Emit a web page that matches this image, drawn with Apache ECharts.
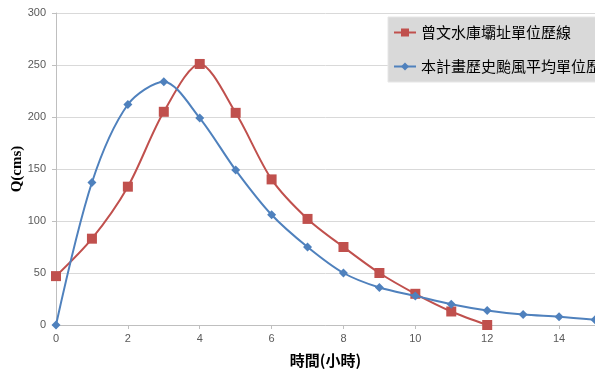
<!DOCTYPE html>
<html>
<head>
<meta charset="utf-8">
<script src="https://cdn.jsdelivr.net/npm/echarts@6/dist/echarts.min.js"></script>
<style>
  html, body { margin: 0; padding: 0; background: #fff; }
  #main { width: 595px; height: 376px; }
</style>
</head>
<body>
<div id="main"></div>
<script>
// 時間(小時) 與 兩條單位歷線
var hours = [0, 1, 2, 3, 4, 5, 6, 7, 8, 9, 10, 11, 12, 13, 14, 15];
var zengwenQ = [47, 83, 133, 205, 251, 204, 140, 102, 75, 50, 30, 13, 0];
var typhoonQ = [0, 137, 212, 234, 199, 149, 106, 75, 50, 36, 28, 20, 14, 10, 8, 5];
var seriesNames = ['曾文水庫壩址單位歷線', '本計畫歷史颱風平均單位歷線'];

function pairs(vals) {
    return vals.map(function (v, i) { return [hours[i], v]; });
}

(function () {
    var myChart = echarts.init(document.getElementById('main'));
    var labelColor = '#595959';
    var cjk = '"Noto Sans CJK TC", "Noto Sans", sans-serif';

    var option = {
        animation: false,
        grid: {
            left: 56,
            right: 0,
            top: 13,
            bottom: 51,
            outerBoundsMode: 'none'
        },
        legend: {
            orient: 'vertical',
            left: 388,
            top: 17,
            backgroundColor: '#d9d9d9',
            borderColor: '#e6e6e6',
            borderWidth: 1,
            padding: [8, 60, 8, 5],
            itemGap: 19,
            itemWidth: 22,
            itemHeight: 10,
            textStyle: { fontFamily: cjk, fontSize: 15, color: '#000' },
            data: seriesNames
        },
        xAxis: {
            type: 'value',
            min: 0,
            max: 15,
            interval: 2,
            name: '時間(小時)',
            nameLocation: 'middle',
            nameGap: 28,
            nameTextStyle: { fontFamily: cjk, fontSize: 15, fontWeight: 'bold', color: '#000' },
            axisLine: { lineStyle: { color: '#bfbfbf' } },
            axisTick: { show: true, length: 4, lineStyle: { color: '#bfbfbf' } },
            axisLabel: {
                color: labelColor, fontSize: 11, margin: 8,
                showMaxLabel: false
            },
            splitLine: { show: false }
        },
        yAxis: {
            type: 'value',
            min: 0,
            max: 300,
            interval: 50,
            name: 'Q(cms)',
            nameLocation: 'middle',
            nameGap: 31,
            nameMoveOverlap: false,
            nameTextStyle: { fontFamily: '"Liberation Serif", serif', fontSize: 15, fontWeight: 'bold', color: '#000' },
            axisLine: { show: true, lineStyle: { color: '#bfbfbf' } },
            axisTick: { show: true, length: 4, lineStyle: { color: '#bfbfbf' } },
            axisLabel: { color: labelColor, fontSize: 11, margin: 10 },
            splitLine: { lineStyle: { color: '#d9d9d9', width: 1 } }
        },
        series: [{
            name: seriesNames[0],
            type: 'line',
            smooth: 0.3,
            data: pairs(zengwenQ),
            symbol: 'rect',
            symbolSize: 10,
            lineStyle: { width: 2, color: '#c0504d' },
            itemStyle: { color: '#c0504d' },
            z: 2
        }, {
            name: seriesNames[1],
            type: 'line',
            smooth: 0.3,
            data: pairs(typhoonQ),
            symbol: 'diamond',
            symbolSize: 9,
            lineStyle: { width: 2, color: '#4f81bd' },
            itemStyle: { color: '#4f81bd' },
            z: 3
        }]
    };

    myChart.setOption(option);
})();
</script>
</body>
</html>
